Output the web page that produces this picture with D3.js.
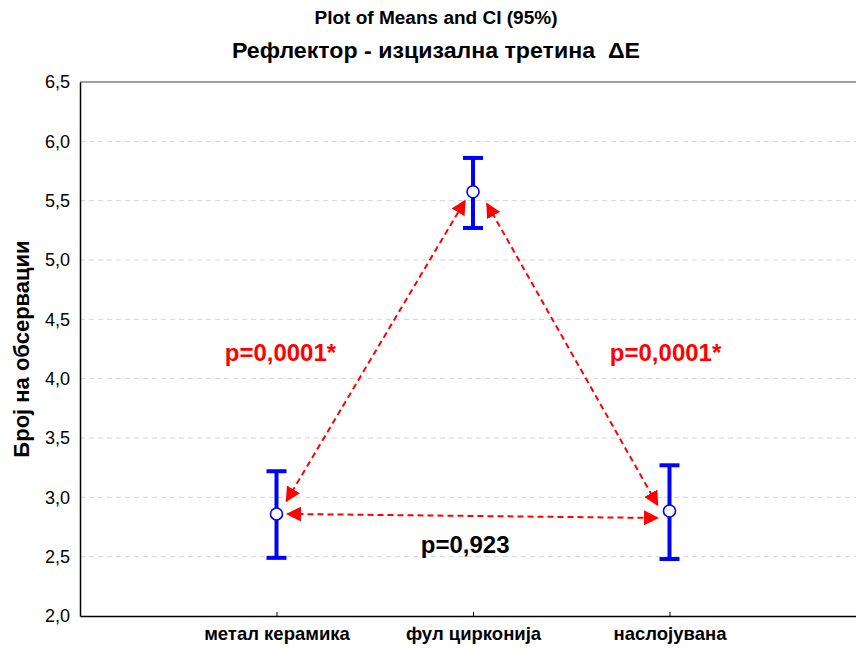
<!DOCTYPE html>
<html>
<head>
<meta charset="utf-8">
<script src="https://cdn.jsdelivr.net/npm/d3@7"></script>
<style>
  html, body { margin: 0; padding: 0; background: #fff; }
  svg { display: block; font-family: "Liberation Sans", Arial, sans-serif; }
</style>
</head>
<body>
<svg id="chart" width="856" height="649"></svg>
<script>
// Group means with 95% confidence limits
const categories = ["метал керамика", "фул цирконија", "наслојувана"];
const means = [2.86, 5.575, 2.885];
const ciLower = [2.49, 5.27, 2.48];
const ciUpper = [3.22, 5.86, 3.27];
const yTicks = [2.0, 2.5, 3.0, 3.5, 4.0, 4.5, 5.0, 5.5, 6.0, 6.5];

// Pairwise comparisons and where their p-values are written
const comparisons = [
  { a: 0, b: 1, label: "p=0,0001*", color: "#ff0000", lx: 1.02, ly: 4.15 },
  { a: 1, b: 2, label: "p=0,0001*", color: "#ff0000", lx: 2.98, ly: 4.15 },
  { a: 0, b: 2, label: "p=0,923", color: "#000000", lx: 1.96, ly: 2.53 }
];

const svg = d3.select("#chart");
const plotLeft = 80, plotTop = 82, plotBottom = 616, plotRight = 866;

const x = d3.scaleLinear().domain([0, categories.length + 1]).range([plotLeft, plotRight]);
const y = d3.scaleLinear().domain([2.0, 6.5]).range([plotBottom, plotTop]);
const fmt = v => d3.format(".1f")(v).replace(".", ",");

// Titles
svg.append("text").attr("x", 436).attr("y", 24).attr("text-anchor", "middle")
  .attr("font-size", 18).attr("font-weight", "bold")
  .attr("textLength", 243).attr("lengthAdjust", "spacingAndGlyphs")
  .text("Plot of Means and CI (95%)");
svg.append("text").attr("x", 436).attr("y", 58).attr("text-anchor", "middle")
  .attr("font-size", 22.5).attr("font-weight", "bold").style("white-space", "pre")
  .attr("textLength", 408).attr("lengthAdjust", "spacingAndGlyphs")
  .text("Рефлектор - изцизална третина  ΔЕ");

// Horizontal dashed grid
svg.append("g").selectAll("line").data(yTicks.filter(t => t > 2 && t < 6.5)).join("line")
  .attr("x1", plotLeft).attr("x2", 856)
  .attr("y1", d => y(d)).attr("y2", d => y(d))
  .attr("stroke", "#d4d4d4").attr("stroke-width", 1).attr("stroke-dasharray", "5,4");

// Top frame line
svg.append("line").attr("x1", plotLeft).attr("x2", 856).attr("y1", plotTop).attr("y2", plotTop)
  .attr("stroke", "#808080").attr("stroke-width", 1.5);

// Y axis
const yAxis = d3.axisLeft(y).tickValues(yTicks).tickFormat(fmt).tickSize(0).tickPadding(10);
const gy = svg.append("g").attr("transform", `translate(${plotLeft},0)`).call(yAxis);
gy.select(".domain").attr("stroke", "#000").attr("stroke-width", 1.5);
gy.selectAll("text").attr("font-size", 18).attr("fill", "#000")
  .attr("font-family", "Liberation Sans, Arial, sans-serif");

// X axis
const xAxis = d3.axisBottom(x).tickValues([1, 2, 3]).tickFormat(i => categories[i - 1])
  .tickSizeInner(-4).tickSizeOuter(0).tickPadding(11);
const gx = svg.append("g").attr("transform", `translate(0,${plotBottom})`).call(xAxis);
gx.select(".domain").attr("stroke", "#000").attr("stroke-width", 1.5);
gx.selectAll(".tick line").attr("stroke", "#000");
gx.selectAll("text").attr("font-size", 18.5).attr("font-weight", "bold").attr("fill", "#000")
  .attr("font-family", "Liberation Sans, Arial, sans-serif");

// Y axis title
svg.append("text").attr("transform", `translate(29,349) rotate(-90)`)
  .attr("text-anchor", "middle").attr("font-size", 22).attr("font-weight", "bold")
  .text("Број на обсервации");

// Arrowhead marker
const defs = svg.append("defs");
defs.append("marker").attr("id", "arrowRed")
  .attr("viewBox", "0 0 10 10").attr("refX", 9).attr("refY", 5)
  .attr("markerWidth", 7.5).attr("markerHeight", 7.5).attr("markerUnits", "strokeWidth")
  .attr("orient", "auto-start-reverse")
  .append("path").attr("d", "M0,0 L10,5 L0,10 Z").attr("fill", "#ff0000");

// Comparison arrows between means, pulled back slightly from each marker
const offsets = [
  [10, -13, -8, 9],
  [14, 12, -12, -6],
  [11, 0, -12, 7]
];
comparisons.forEach(({ a, b }, k) => {
  const o = offsets[k];
  svg.append("line")
    .attr("x1", x(a + 1) + o[0]).attr("y1", y(means[a]) + o[1])
    .attr("x2", x(b + 1) + o[2]).attr("y2", y(means[b]) + o[3])
    .attr("stroke", "#ff0000").attr("stroke-width", 2).attr("stroke-dasharray", "6,4")
    .attr("marker-start", "url(#arrowRed)").attr("marker-end", "url(#arrowRed)");
});

// Error bars and means
const eb = svg.append("g");
categories.forEach((c, i) => {
  const cx = x(i + 1);
  eb.append("line").attr("x1", cx).attr("x2", cx)
    .attr("y1", y(ciLower[i])).attr("y2", y(ciUpper[i]))
    .attr("stroke", "#0000ff").attr("stroke-width", 4);
  [ciLower[i], ciUpper[i]].forEach(v => {
    eb.append("line").attr("x1", cx - 10).attr("x2", cx + 10)
      .attr("y1", y(v)).attr("y2", y(v))
      .attr("stroke", "#0000ff").attr("stroke-width", 4);
  });
  eb.append("circle").attr("cx", cx).attr("cy", y(means[i])).attr("r", 6)
    .attr("fill", "#fff").attr("stroke", "#0000ff").attr("stroke-width", 1.6);
});

// p-value labels
comparisons.forEach(d => {
  svg.append("text").attr("x", x(d.lx)).attr("y", y(d.ly))
    .attr("text-anchor", "middle").attr("font-size", 24).attr("font-weight", "bold")
    .attr("fill", d.color).text(d.label);
});
</script>
</body>
</html>
